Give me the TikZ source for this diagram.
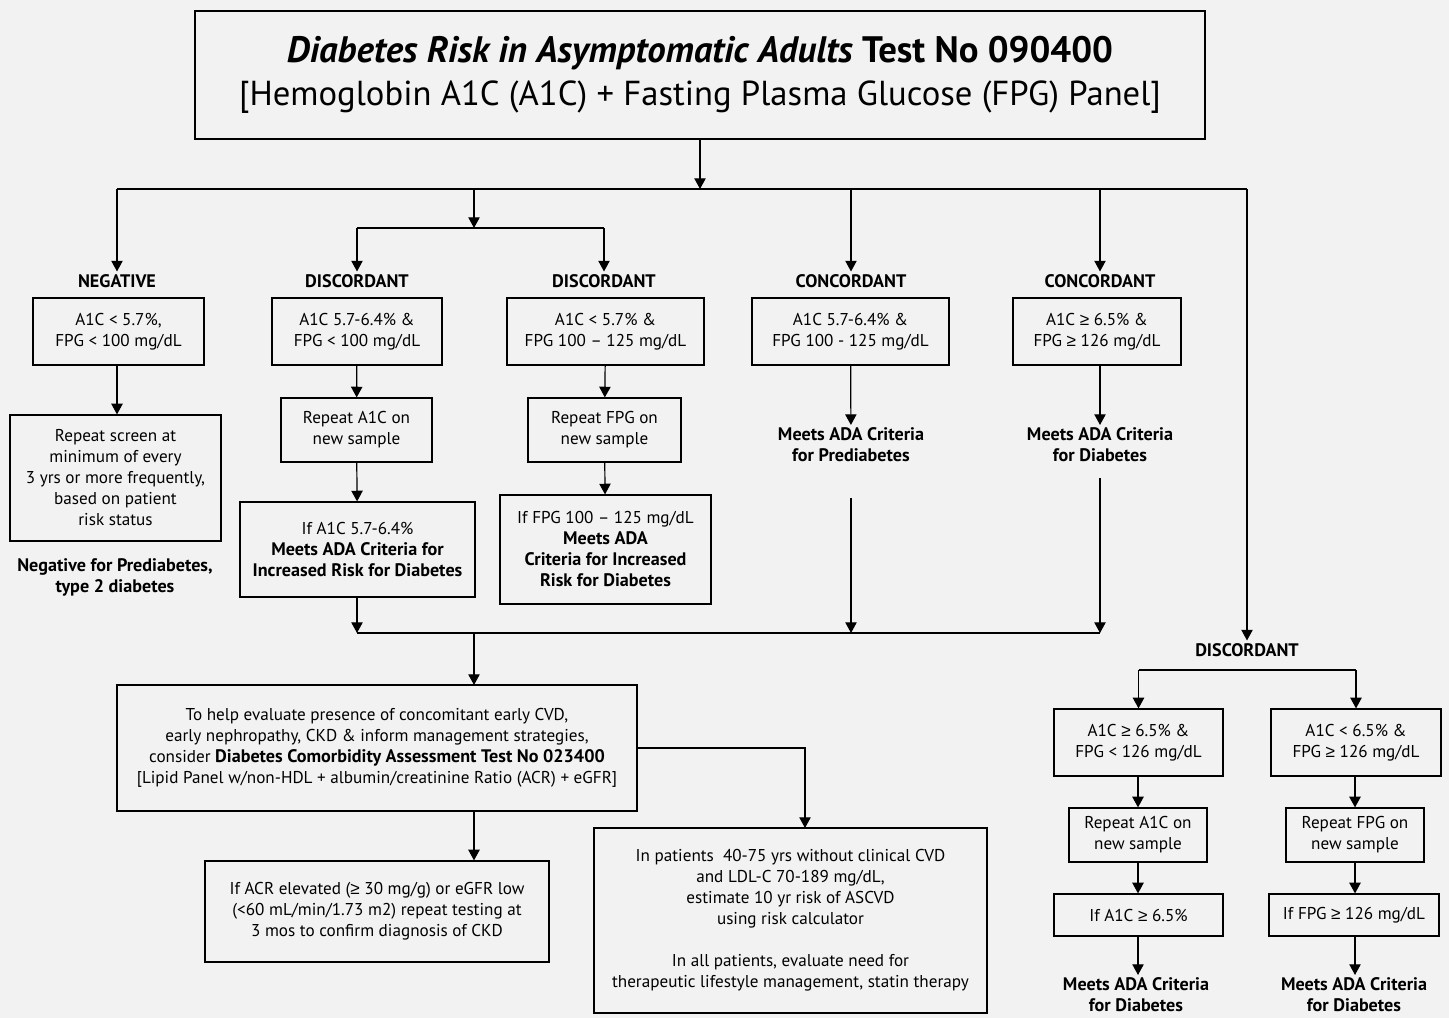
\documentclass[tikz,border=0pt]{standalone}
\usepackage{fontspec}
\setmainfont{PT Sans}
\newfontfamily\symfont{Liberation Sans}
\usetikzlibrary{arrows.meta}
\definecolor{bgc}{RGB}{242,242,242}
\newcommand{\gq}{{\symfont ≥}}
\newcommand{\bt}[1]{{\fontsize{13.6}{15.75}\selectfont\bfseries #1}}

\tikzset{
  box/.style={draw, line width=0.9pt, align=center, inner sep=2pt, font=\fontsize{12.85}{15.75}\selectfont},
  sz/.style 2 args={minimum width=#1*0.75pt, minimum height=#2*0.75pt},
  lbl/.style={align=center, inner sep=2pt, font=\fontsize{13.6}{15.75}\selectfont\bfseries},
  arr/.style={line width=0.9pt, -{Triangle[length=8pt,width=8.5pt]}},
  ln/.style={line width=0.9pt}
}

\begin{document}
\begin{tikzpicture}[x=0.75pt,y=-0.75pt]
  \fill[bgc] (0,0) rectangle (1449,1018);
  \useasboundingbox (0,0) rectangle (1449,1018);

  \node[box, sz={1010}{128}, line width=2.2pt, font=\fontsize{26}{32}\selectfont] (title) at (700,75)
    {{\fontsize{27.6}{32}\selectfont\bfseries\itshape Diabetes Risk in Asymptomatic Adults \upshape Test No 090400}\\
     {}[Hemoglobin A1C (A1C) + Fasting Plasma Glucose (FPG) Panel]};

  % first row of results
  \node[lbl] (negl) at (117,281) {NEGATIVE};
  \node[lbl] (d1l) at (357,281) {DISCORDANT};
  \node[lbl] (d2l) at (604,281) {DISCORDANT};
  \node[lbl] (c1l) at (851,281) {CONCORDANT};
  \node[lbl] (c2l) at (1100,281) {CONCORDANT};

  \node[box, sz={171}{67}] (neg1) at (118.5,331.5) {A1C < 5.7\%,\\FPG < 100 mg/dL};
  \node[box, sz={170}{67}] (d1a) at (357,331.5) {A1C 5.7-6.4\% \&\\FPG < 100 mg/dL};
  \node[box, sz={197}{67}] (d2a) at (605.5,331.5) {A1C < 5.7\% \&\\FPG 100 – 125 mg/dL};
  \node[box, sz={197}{67}] (c1a) at (850.5,331.5) {A1C 5.7-6.4\% \&\\FPG 100 - 125 mg/dL};
  \node[box, sz={168}{67}] (c2a) at (1097,331.5) {A1C \gq{} 6.5\% \&\\FPG \gq{} 126 mg/dL};

  \node[box, sz={211}{126}] (neg2) at (115.5,478) {Repeat screen at\\minimum of every\\3 yrs or more frequently,\\based on patient\\risk status};
  \node[lbl] (neg3) at (115,577) {Negative for Prediabetes,\\type 2 diabetes};

  \node[box, sz={151}{64}] (d1b) at (356.5,430) {Repeat A1C on\\new sample};
  \node[box, sz={235}{95}] (d1c) at (357.5,549.5) {If A1C 5.7-6.4\%\\\bt{Meets ADA Criteria for}\\\bt{Increased Risk for Diabetes}};

  \node[box, sz={153}{64}] (d2b) at (604.5,430) {Repeat FPG on\\new sample};
  \node[box, sz={211}{109}] (d2c) at (605.5,549.5) {If FPG 100 – 125 mg/dL\\\bt{Meets ADA}\\\bt{Criteria for Increased}\\\bt{Risk for Diabetes}};

  \node[lbl] (c1b) at (851,445) {Meets ADA Criteria\\for Prediabetes};
  \node[lbl] (c2b) at (1100,445) {Meets ADA Criteria\\for Diabetes};

  % comorbidity follow-up
  \node[box, sz={520}{126}] (com) at (377,748) {To help evaluate presence of concomitant early CVD,\\early nephropathy, CKD \& inform management strategies,\\consider \bt{Diabetes Comorbidity Assessment Test No 023400}\\{}[Lipid Panel w/non-HDL + albumin/creatinine Ratio (ACR) + eGFR]};
  \node[box, sz={344}{101}] (acr) at (377,911.5) {If ACR elevated (\gq{} 30 mg/g) or eGFR low\\(<60 mL/min/1.73 m2) repeat testing at\\3 mos to confirm diagnosis of CKD};
  \node[box, sz={393}{185}] (asc) at (790.5,920.5) {In patients\ \ 40-75 yrs without clinical CVD\\and LDL-C 70-189 mg/dL,\\estimate 10 yr risk of ASCVD\\using risk calculator\\[15.75pt]In all patients, evaluate need for\\therapeutic lifestyle management, statin therapy};

  % right hand discordant branch
  \node[lbl] (rdl) at (1247,650) {DISCORDANT};
  \node[box, sz={169}{67}] (r1a) at (1138.5,742.5) {A1C \gq{} 6.5\% \&\\FPG < 126 mg/dL};
  \node[box, sz={170}{67}] (r2a) at (1356,742.5) {A1C < 6.5\% \&\\FPG \gq{} 126 mg/dL};
  \node[box, sz={138}{54}] (r1b) at (1138,835) {Repeat A1C on\\new sample};
  \node[box, sz={138}{54}] (r2b) at (1355,835) {Repeat FPG on\\new sample};
  \node[box, sz={169}{42}] (r1c) at (1138.5,915) {If A1C \gq{} 6.5\%};
  \node[box, sz={170}{42}] (r2c) at (1354,915) {If FPG \gq{} 126 mg/dL};
  \node[lbl] (r1d) at (1136,995) {Meets ADA Criteria\\for Diabetes};
  \node[lbl] (r2d) at (1354,995) {Meets ADA Criteria\\for Diabetes};

  \coordinate (top) at (700,189);
  \coordinate (busL) at (117,189);
  \coordinate (busR) at (1247,189);
  \coordinate (dsplit) at (474,228);
  \coordinate (jl) at (357,633);
  \coordinate (jr) at (1100,633);
  \coordinate (cin) at (474,685);
  \coordinate (ain) at (805,828);
  \coordinate (rs) at (1247,670);

  \draw[arr] (title.south) -- (top);
  \draw[ln] (busL) -- (busR);
  \draw[arr] (busL) -- (negl.north);
  \draw[arr] (dsplit |- busL) -- (dsplit);
  \draw[ln] (d1l.north |- dsplit) -- (d2l.north |- dsplit);
  \draw[arr] (d1l.north |- dsplit) -- (d1l.north);
  \draw[arr] (d2l.north |- dsplit) -- (d2l.north);
  \draw[arr] (c1l.north |- busL) -- (c1l.north);
  \draw[arr] (c2l.north |- busL) -- (c2l.north);
  \draw[arr] (busR) -- (rdl.north);

  \draw[arr] (negl.north |- neg1.south) -- (negl.north |- neg2.north);
  \draw[arr] (d1a) -- (d1b);
  \draw[arr] (d1b) -- (d1c);
  \draw[arr] (d2a) -- (d2b);
  \draw[arr] (d2b) -- (d2c);
  \draw[arr] (c1a) -- (c1b);
  \draw[arr] (c2b.north |- c2a.south) -- (c2b.north);

  \draw[arr] (jl |- d1c.south) -- (jl);
  \draw[ln] (jl) -- (jr);
  \draw[arr, shorten <=25pt] (c1b.south) -- (c1b.south |- jl);
  \draw[arr, shorten <=10pt] (c2b.south) -- (jr);
  \draw[arr] (cin |- jl) -- (cin);
  \draw[arr] (cin |- com.south) -- (cin |- acr.north);
  \draw[arr] (com.east) -| (ain);

  \draw[ln] (r1a.north |- rs) -- (r2a.north |- rs);
  \draw[arr] (r1a.north |- rs) -- (r1a.north);
  \draw[arr] (r2a.north |- rs) -- (r2a.north);
  \draw[arr] (r1b.north |- r1a.south) -- (r1b.north);
  \draw[arr] (r1b) -- (r1b |- r1c.north);
  \draw[arr] (r1b |- r1c.south) -- (r1b |- r1d.north);
  \draw[arr] (r2b.north |- r2a.south) -- (r2b.north);
  \draw[arr] (r2b) -- (r2b |- r2c.north);
  \draw[arr] (r2b |- r2c.south) -- (r2b |- r2d.north);
\end{tikzpicture}
\end{document}
